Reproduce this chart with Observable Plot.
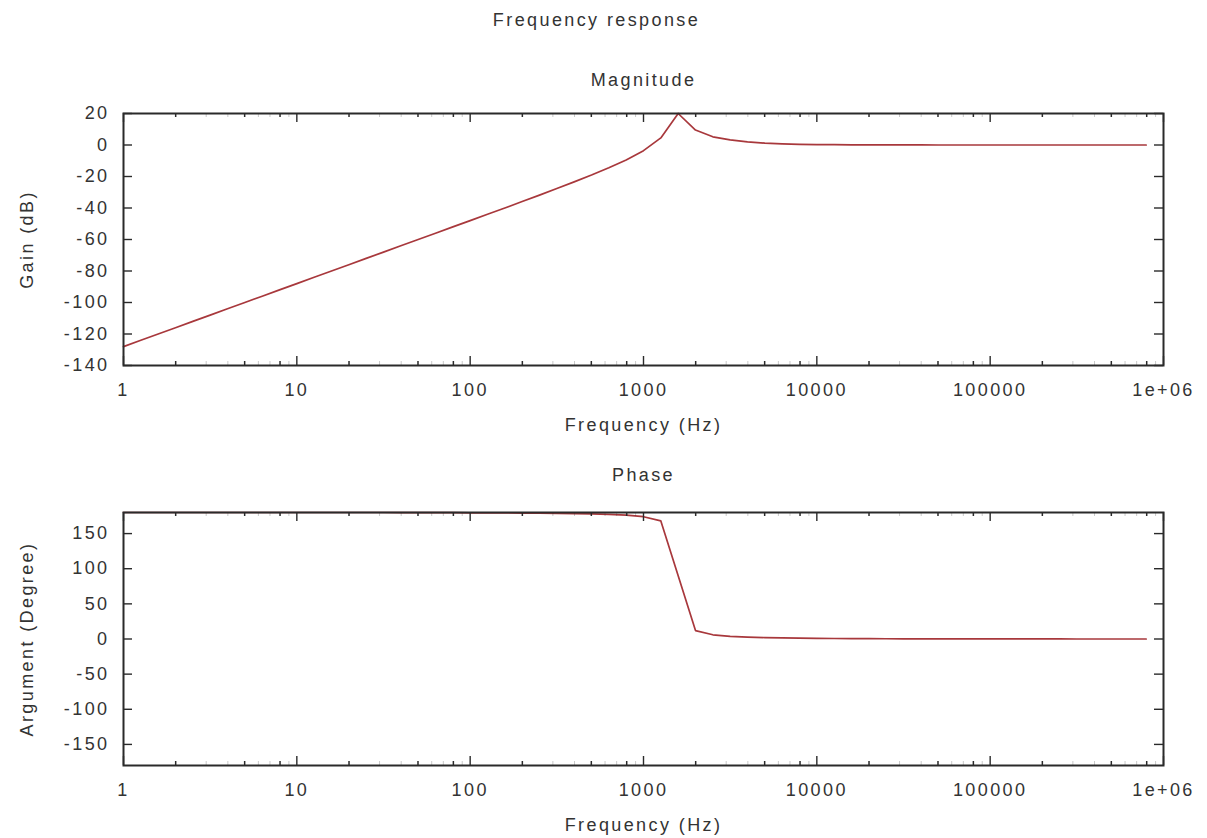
<!DOCTYPE html>
<html><head><meta charset="utf-8">
<script src="https://cdn.jsdelivr.net/npm/d3@7"></script>
<script src="https://cdn.jsdelivr.net/npm/@observablehq/plot@0.6"></script>
<style>
body{margin:0;background:#fff;}
#chart svg{display:block;}
</style></head><body><div id="chart"></div>
<script>
// Sample frequencies (Hz), 0.1 decade apart
const freqHz = [1, 1.259, 1.585, 1.995, 2.512, 3.162, 3.981, 5.012, 6.31, 7.943,
  10, 12.59, 15.85, 19.95, 25.12, 31.62, 39.81, 50.12, 63.1, 79.43,
  100, 125.9, 158.5, 199.5, 251.2, 316.2, 398.1, 501.2, 631, 794.3,
  1000, 1259, 1585, 1995, 2512, 3162, 3981, 5012, 6310, 7943,
  10000, 12589, 15849, 19953, 25119, 31623, 39811, 50119, 63096, 79433,
  100000, 125893, 158489, 199526, 251189, 316228, 398107, 501187, 630957, 794328];
// Magnitude (dB)
const gainDb = [-128, -124, -120, -116, -112, -108, -104, -100, -96, -92,
  -88, -84, -80, -76, -72, -68, -64, -60, -56, -52,
  -48, -44, -40, -35.9, -31.8, -27.6, -23.4, -19.1, -14.5, -9.5,
  -3.6, 4.5, 20, 9.5, 5.2, 3.2, 2.0, 1.2, 0.75, 0.45,
  0.28, 0.18, 0.11, 0.07, 0.05, 0.03, 0.02, 0.01, 0.01, 0,
  0, 0, 0, 0, 0, 0, 0, 0, 0, 0];
// Phase (degrees)
const phaseDeg = [180, 180, 180, 180, 180, 180, 180, 180, 180, 180,
  180, 180, 180, 180, 180, 180, 179.9, 179.9, 179.8, 179.7,
  179.6, 179.5, 179.4, 179.1, 179.1, 178.8, 178.5, 178, 177.3, 176.2,
  174, 168, 90, 12, 6, 3.8, 2.7, 2, 1.5, 1.2,
  0.9, 0.7, 0.57, 0.45, 0.36, 0.29, 0.23, 0.18, 0.14, 0.11,
  0.09, 0.07, 0.06, 0.05, 0.04, 0.03, 0.02, 0.02, 0.01, 0.01];

const xTicks = [1, 10, 100, 1000, 10000, 100000, 1000000];
const xTickLabels = ["1", "10", "100", "1000", "10000", "100000", "1e+06"];
const gainTicks = [-140, -120, -100, -80, -60, -40, -20, 0, 20];
const phaseTicks = [-150, -100, -50, 0, 50, 100, 150];
const minorStrong = [2, 5, 8];
const minorFaint = [3, 4, 6, 7, 9];

const decades = [1, 10, 100, 1000, 10000, 100000];
const strongMinor = decades.flatMap(d => minorStrong.map(m => m * d));
const faintMinor = decades.flatMap(d => minorFaint.map(m => m * d));

const W = 1207, mL = 123, mR = 44;
const ink = "#2a2a2a";
const font = "'Liberation Sans', Arial, Helvetica, sans-serif";

function panel({values, yDomain, yTicks, yLabel, title, titleDy, height, mTop, mBottom, extra = []}) {
  const fh = height - mTop - mBottom, fw = W - mL - mR;
  const data = freqHz.map((f, i) => ({f, v: values[i]}));
  const tk = 9, mk = 4;
  return Plot.plot({
    width: W, height, marginTop: mTop, marginBottom: mBottom, marginLeft: mL, marginRight: mR,
    style: {fontFamily: font, fontSize: "18px", letterSpacing: "2.4px", color: "#333", background: "#fff", overflow: "visible"},
    x: {type: "log", domain: [1, 1e6]},
    y: {domain: yDomain},
    marks: [
      Plot.line(data, {x: "f", y: "v", stroke: "#a8383c", strokeWidth: 1.7}),
      Plot.tickX(xTicks, {x: d => d, stroke: ink, strokeWidth: 1.4, insetTop: fh - tk}),
      Plot.tickX(xTicks, {x: d => d, stroke: ink, strokeWidth: 1.4, insetBottom: fh - tk}),
      Plot.tickX(strongMinor, {x: d => d, stroke: ink, strokeWidth: 1.5, insetTop: fh - mk}),
      Plot.tickX(strongMinor, {x: d => d, stroke: ink, strokeWidth: 1.5, insetBottom: fh - mk}),
      Plot.tickX(faintMinor, {x: d => d, stroke: ink, strokeOpacity: 0.25, strokeWidth: 1, insetTop: fh - mk}),
      Plot.tickX(faintMinor, {x: d => d, stroke: ink, strokeOpacity: 0.25, strokeWidth: 1, insetBottom: fh - mk}),
      Plot.tickY(yTicks, {y: d => d, stroke: ink, strokeWidth: 1.4, insetRight: fw - tk}),
      Plot.tickY(yTicks, {y: d => d, stroke: ink, strokeWidth: 1.4, insetLeft: fw - tk}),
      Plot.frame({stroke: ink, strokeWidth: 2}),
      Plot.axisX({ticks: xTicks, tickSize: 0, tickPadding: 18, label: null,
        tickFormat: d => xTickLabels[xTicks.indexOf(d)]}),
      Plot.axisY({ticks: yTicks, tickSize: 0, tickPadding: 14, label: null, tickFormat: d => String(d)}),
      Plot.text(["Frequency (Hz)"], {frameAnchor: "bottom", dy: 60, lineAnchor: "middle", textAnchor: "middle", text: d => d}),
      Plot.text([yLabel], {frameAnchor: "left", dx: -96, rotate: -90, textAnchor: "middle", lineAnchor: "middle", text: d => d}),
      Plot.text([title], {frameAnchor: "top", dy: titleDy, lineAnchor: "middle", textAnchor: "middle", text: d => d}),
      ...extra
    ]
  });
}

const magPanel = panel({
  values: gainDb, yDomain: [-140, 20], yTicks: gainTicks, yLabel: "Gain (dB)",
  title: "Magnitude", titleDy: -33, height: 450, mTop: 113, mBottom: 85,
  extra: [Plot.text(["Frequency response"], {frameAnchor: "top", dy: -93, dx: -47, lineAnchor: "middle", textAnchor: "middle", text: d => d})]
});
const phasePanel = panel({
  values: phaseDeg, yDomain: [-180, 180], yTicks: phaseTicks, yLabel: "Argument (Degree)",
  title: "Phase", titleDy: -37, height: 388, mTop: 62, mBottom: 73
});
document.getElementById("chart").append(magPanel, phasePanel);
</script>
</body></html>
